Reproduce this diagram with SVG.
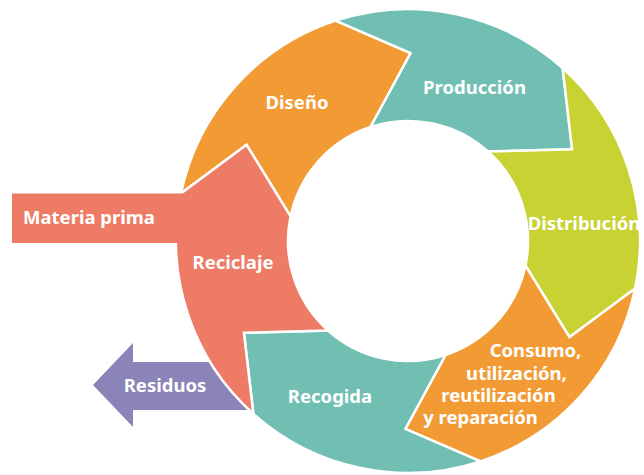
<svg xmlns="http://www.w3.org/2000/svg" width="644" height="475" viewBox="0 0 644 475">
<style>
.seg{stroke:#ffffff;stroke-width:2.5;stroke-linejoin:miter}
.or{fill:#F29B34}
.te{fill:#71BFB3}
.gr{fill:#C8D232}
.sa{fill:#EE7B66}
.pu{fill:#8B84B9}
.lbl{fill:#ffffff;font-family:"Noto Sans","Open Sans","DejaVu Sans",sans-serif;font-weight:bold;font-size:18.5px}
</style>
<rect width="644" height="475" fill="#ffffff"/>
<g id="residuos">
<polygon class="pu" points="93,385 133,343 133,362 250,362 250,410 133,410 133,427"/>
<text class="lbl" x="165" y="392" text-anchor="middle">Residuos</text>
</g>
<g id="diseno">
<path class="seg or" d="M 180.90 193.56 A 232 232 0 0 1 335.54 20.61 L 410.62 53.02 L 370.52 127.00 A 120 120 0 0 0 290.54 216.46 L 246.52 144.73 Z"/>
<text class="lbl" x="297" y="109" text-anchor="middle">Diseño</text>
</g>
<g id="produccion">
<path class="seg te" d="M 335.54 20.61 A 232 232 0 0 1 562.63 68.05 L 572.11 149.28 L 487.98 151.54 A 120 120 0 0 0 370.52 127.00 L 410.62 53.02 Z"/>
<text class="lbl" x="474.5" y="94" text-anchor="middle">Producción</text>
</g>
<g id="distribucion">
<path class="seg gr" d="M 562.63 68.05 A 232 232 0 0 1 635.10 288.44 L 569.48 337.27 L 525.46 265.54 A 120 120 0 0 0 487.98 151.54 L 572.11 149.28 Z"/>
<text class="lbl" x="584" y="230" text-anchor="middle">Distribución</text>
</g>
<g id="consumo">
<path class="seg or" d="M 635.10 288.44 A 232 232 0 0 1 480.46 461.39 L 405.38 428.98 L 445.48 355.00 A 120 120 0 0 0 525.46 265.54 L 569.48 337.27 Z"/>
<text class="lbl" x="535.5" y="357" text-anchor="middle">Consumo,</text>
<text class="lbl" x="516.5" y="379.5" text-anchor="middle">utilización,</text>
<text class="lbl" x="498.5" y="401.5" text-anchor="middle">reutilización</text>
<text class="lbl" x="480.5" y="424" text-anchor="middle">y reparación</text>
</g>
<g id="recogida">
<path class="seg te" d="M 480.46 461.39 A 232 232 0 0 1 253.37 413.95 L 243.89 332.72 L 328.02 330.46 A 120 120 0 0 0 445.48 355.00 L 405.38 428.98 Z"/>
<text class="lbl" x="330" y="403" text-anchor="middle">Recogida</text>
</g>
<g id="reciclaje">
<path class="seg sa" d="M 253.37 413.95 A 232 232 0 0 1 180.90 193.56 L 246.52 144.73 L 290.54 216.46 A 120 120 0 0 0 328.02 330.46 L 243.89 332.72 Z"/>
<text class="lbl" x="233" y="269" text-anchor="middle">Reciclaje</text>
</g>
<g id="materia-prima">
<rect class="sa" x="12" y="193.5" width="238" height="49.5"/>
<text class="lbl" x="89" y="224" text-anchor="middle">Materia prima</text>
</g>
</svg>
